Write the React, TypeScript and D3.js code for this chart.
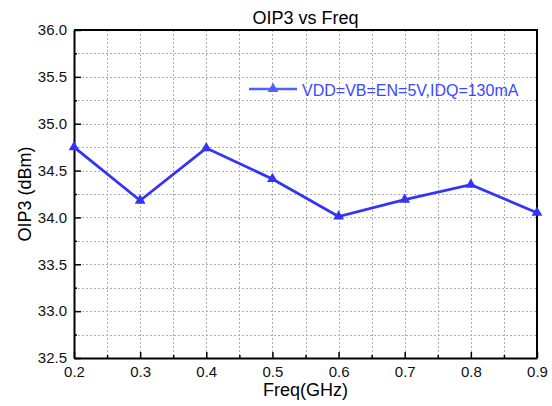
import * as d3 from 'd3';
import { useEffect, useRef } from 'react';

const freqs = [0.2, 0.3, 0.4, 0.5, 0.6, 0.7, 0.8, 0.9];
const oip3 = [34.75, 34.18, 34.74, 34.41, 34.01, 34.19, 34.35, 34.05];
const yTicks = [32.5, 33.0, 33.5, 34.0, 34.5, 35.0, 35.5, 36.0];
const seriesName = 'VDD=VB=EN=5V,IDQ=130mA';

const W = 552;
const H = 406;
const margin = { left: 74, top: 30, right: 15, bottom: 48 };

export default function App() {
  const ref = useRef<SVGSVGElement>(null);

  useEffect(() => {
    if (!ref.current) return;
    const svg = d3.select(ref.current);
    svg.selectAll('*').remove();

    const x = d3.scaleLinear().domain([0.2, 0.9]).range([margin.left, W - margin.right]);
    const y = d3.scaleLinear().domain([32.5, 36]).range([H - margin.bottom, margin.top]);
    const font = 'Arial, "Liberation Sans", sans-serif';
    const blue = '#3434f6';

    // grid (major + minor, dotted)
    const xGrid = d3.range(0.25, 0.9, 0.05);
    const yGrid = d3.range(32.75, 36, 0.25);
    const grid = svg.append('g').attr('stroke', '#b0b0b0').attr('stroke-width', 1).attr('stroke-dasharray', '2,2');
    grid.selectAll('line.v').data(xGrid).join('line')
      .attr('x1', (d) => Math.round(x(d)) + 0.5).attr('x2', (d) => Math.round(x(d)) + 0.5)
      .attr('y1', margin.top).attr('y2', H - margin.bottom);
    grid.selectAll('line.h').data(yGrid).join('line')
      .attr('y1', (d) => Math.round(y(d)) + 0.5).attr('y2', (d) => Math.round(y(d)) + 0.5)
      .attr('x1', margin.left).attr('x2', W - margin.right);

    // axes with inward ticks
    const xAxis = svg.append('g').attr('transform', `translate(0,${H - margin.bottom})`)
      .call(d3.axisBottom(x).tickValues(freqs).tickFormat(d3.format('.1f')).tickSizeInner(-6).tickSizeOuter(0).tickPadding(8));
    svg.append('g').attr('transform', `translate(0,${H - margin.bottom})`)
      .call(d3.axisBottom(x).tickValues(d3.range(0.25, 0.9, 0.1)).tickFormat(() => '').tickSizeInner(-3).tickSizeOuter(0))
      .select('.domain').remove();
    const yAxis = svg.append('g').attr('transform', `translate(${margin.left},0)`)
      .call(d3.axisLeft(y).tickValues(yTicks).tickFormat(d3.format('.1f')).tickSizeInner(-7).tickSizeOuter(0).tickPadding(7));
    svg.append('g').attr('transform', `translate(${margin.left},0)`)
      .call(d3.axisLeft(y).tickValues(d3.range(32.75, 36, 0.5)).tickFormat(() => '').tickSizeInner(-3).tickSizeOuter(0))
      .select('.domain').remove();

    [xAxis, yAxis].forEach((a) => {
      a.select('.domain').attr('stroke', '#000').attr('stroke-width', 2);
      a.selectAll('text').attr('font-family', font).attr('font-size', 15).attr('fill', '#111');
    });
    svg.selectAll('.tick line').attr('stroke', '#000').attr('stroke-width', 1.5);

    // top and right frame
    svg.append('path')
      .attr('d', `M${margin.left},${margin.top}H${W - margin.right}V${H - margin.bottom}`)
      .attr('fill', 'none').attr('stroke', '#000').attr('stroke-width', 2);

    // series
    const pts = freqs.map((f, i) => [x(f), y(oip3[i])] as [number, number]);
    svg.append('path').datum(pts).attr('d', d3.line())
      .attr('fill', 'none').attr('stroke', blue).attr('stroke-width', 2.8);
    const tri = d3.symbol(d3.symbolTriangle, 50);
    svg.append('g').selectAll('path').data(pts).join('path')
      .attr('transform', (d) => `translate(${d[0]},${d[1]})`)
      .attr('d', tri()).attr('fill', blue);

    // legend
    const lg = svg.append('g');
    lg.append('line').attr('x1', 249).attr('x2', 297).attr('y1', 89).attr('y2', 89)
      .attr('stroke', '#5060ff').attr('stroke-width', 2.5);
    lg.append('path').attr('transform', 'translate(273,89)').attr('d', tri()).attr('fill', '#5060ff');
    lg.append('text').attr('x', 302).attr('y', 96).text(seriesName)
      .attr('font-family', font).attr('font-size', 16).attr('fill', '#3a48ff');

    // titles
    svg.append('text').attr('x', (margin.left + W - margin.right) / 2).attr('y', 24)
      .attr('text-anchor', 'middle').attr('font-family', font).attr('font-size', 18).text('OIP3 vs Freq');
    svg.append('text').attr('x', (margin.left + W - margin.right) / 2).attr('y', 396)
      .attr('text-anchor', 'middle').attr('font-family', font).attr('font-size', 18).text('Freq(GHz)');
    svg.append('text')
      .attr('transform', `translate(31,${(margin.top + H - margin.bottom) / 2}) rotate(-90)`)
      .attr('text-anchor', 'middle').attr('font-family', font).attr('font-size', 18).text('OIP3 (dBm)');
  }, []);

  return (
    <div style={{ position: 'absolute', left: 0, top: 0, background: '#fff' }}>
      <svg ref={ref} width={W} height={H} style={{ display: 'block' }} />
    </div>
  );
}
